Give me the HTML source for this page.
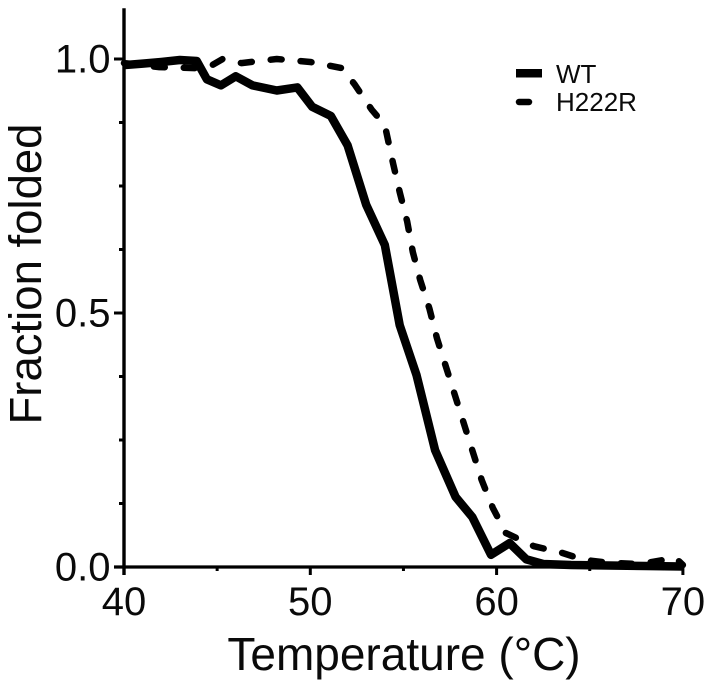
<!DOCTYPE html>
<html lang="en">
<head>
<meta charset="utf-8">
<title>Fraction folded vs temperature</title>
<style>
html,body{margin:0;padding:0;background:#fff;width:711px;height:687px;overflow:hidden}
svg{display:block}
text{font-family:"Liberation Sans",Arial,sans-serif;fill:#0a0a0a}
</style>
</head>
<body>
<svg id="chart" xmlns="http://www.w3.org/2000/svg" width="711" height="687" viewBox="0 0 711 687"></svg>
<script>
const wtTemps = [40, 41, 42, 43, 43.9, 44.45, 45.2, 46, 46.9, 48.2, 49.3, 50.1, 51.1, 52, 53, 54, 54.8, 55.7, 56.7, 57.8, 58.7, 59.7, 60.7, 61.6, 62.5, 64, 66, 68, 70];
const wtValues = [0.988, 0.991, 0.994, 0.998, 0.996, 0.96, 0.948, 0.966, 0.948, 0.938, 0.944, 0.906, 0.888, 0.83, 0.713, 0.634, 0.476, 0.378, 0.23, 0.138, 0.098, 0.024, 0.047, 0.015, 0.006, 0.004, 0.003, 0.002, 0.001];
const h222rTemps = [40, 41.9, 43.8, 44.45, 45.3, 46.3, 48.2, 50, 51.7, 52.4, 53.3, 54, 54.44, 54.8, 55.2, 55.5, 55.9, 56.4, 56.8, 59.2, 59.8, 60.5, 62, 63.5, 64.7, 66.1, 67.7, 69.6, 70];
const h222rValues = [0.992, 0.984, 0.982, 0.982, 1.0, 0.992, 1.0, 0.994, 0.982, 0.949, 0.9, 0.87, 0.795, 0.738, 0.68, 0.62, 0.565, 0.508, 0.45, 0.171, 0.116, 0.067, 0.041, 0.028, 0.014, 0.008, 0.006, 0.018, 0.004];
const xMajorTicks = [40, 50, 60, 70];
const xMinorTicks = [45, 55, 65];
const yMajorTicks = [0, 0.5, 1];
const yMinorTicks = [0.125, 0.25, 0.375, 0.625, 0.75, 0.875];
const yTickLabels = ["0.0", "0.5", "1.0"];
const xTickLabels = ["40", "50", "60", "70"];
const legendLabels = ["WT", "H222R"];

const NS = "http://www.w3.org/2000/svg";
const svg = document.getElementById("chart");
function xScale(t){ return 124 + (t - 40) * 18.63; }
function yScale(v){ return 567 - v * 508; }
function make(tag, attrs, parent){
  const el = document.createElementNS(NS, tag);
  Object.keys(attrs).forEach(function(k){ el.setAttribute(k, attrs[k]); });
  (parent || svg).appendChild(el);
  return el;
}
function linePath(xs, ys){
  return xs.map(function(t, i){ return (i ? "L" : "M") + xScale(t).toFixed(1) + " " + yScale(ys[i]).toFixed(1); }).join(" ");
}

const yAxis = make("line", {x1:124, x2:124, y1:yScale(1.1), y2:575, stroke:"#000", "stroke-width":3.4});


const xAxis = make("line", {x1:114, x2:xScale(70) + 1, y1:yScale(0), y2:yScale(0), stroke:"#000", "stroke-width":3.2});



yMajorTicks.forEach(function(v, i){
  const tick = make("line", {x1:114, x2:124, y1:yScale(v), y2:yScale(v), stroke:"#000", "stroke-width":3});
  
  
  const label = make("text", {x:110.5, y:yScale(v) + 13.5, "text-anchor":"end", "font-size":40});
  label.textContent = yTickLabels[i];
  
  
});
yMinorTicks.forEach(function(v){
  const tick = make("line", {x1:119, x2:124, y1:yScale(v), y2:yScale(v), stroke:"#000", "stroke-width":3});
  
  
});
xMajorTicks.forEach(function(t, i){
  const tick = make("line", {x1:xScale(t), x2:xScale(t), y1:567, y2:575, stroke:"#000", "stroke-width":3});
  
  
  const label = make("text", {x:xScale(t), y:615, "text-anchor":"middle", "font-size":40});
  label.textContent = xTickLabels[i];
  
  
});
xMinorTicks.forEach(function(t){
  const tick = make("line", {x1:xScale(t), x2:xScale(t), y1:567, y2:571, stroke:"#000", "stroke-width":3});
  
  
});

const h222rLine = make("path", {d:linePath(h222rTemps, h222rValues), fill:"none", stroke:"#000", "stroke-width":6.5, "stroke-linecap":"round", "stroke-linejoin":"round", "stroke-dasharray":"11 19"});


const wtLine = make("path", {d:linePath(wtTemps, wtValues), fill:"none", stroke:"#000", "stroke-width":8.5, "stroke-linejoin":"round", "stroke-linecap":"butt"});



const xTitle = make("text", {x:404, y:670, "text-anchor":"middle", "font-size":46});
xTitle.textContent = "Temperature (°C)";


const yTitle = make("text", {x:0, y:0, "text-anchor":"middle", "font-size":45.5, transform:"translate(41 274) rotate(-90)"});
yTitle.textContent = "Fraction folded";



const wtKey = make("rect", {x:516, y:69, width:26, height:8.5, fill:"#000"});


const wtText = make("text", {x:556, y:83, "font-size":26});
wtText.textContent = legendLabels[0];


const hKey = make("line", {x1:519, x2:529, y1:102, y2:102, stroke:"#000", "stroke-width":6.5, "stroke-linecap":"round"});


const hText = make("text", {x:556, y:111, "font-size":26});
hText.textContent = legendLabels[1];


</script>
</body>
</html>
